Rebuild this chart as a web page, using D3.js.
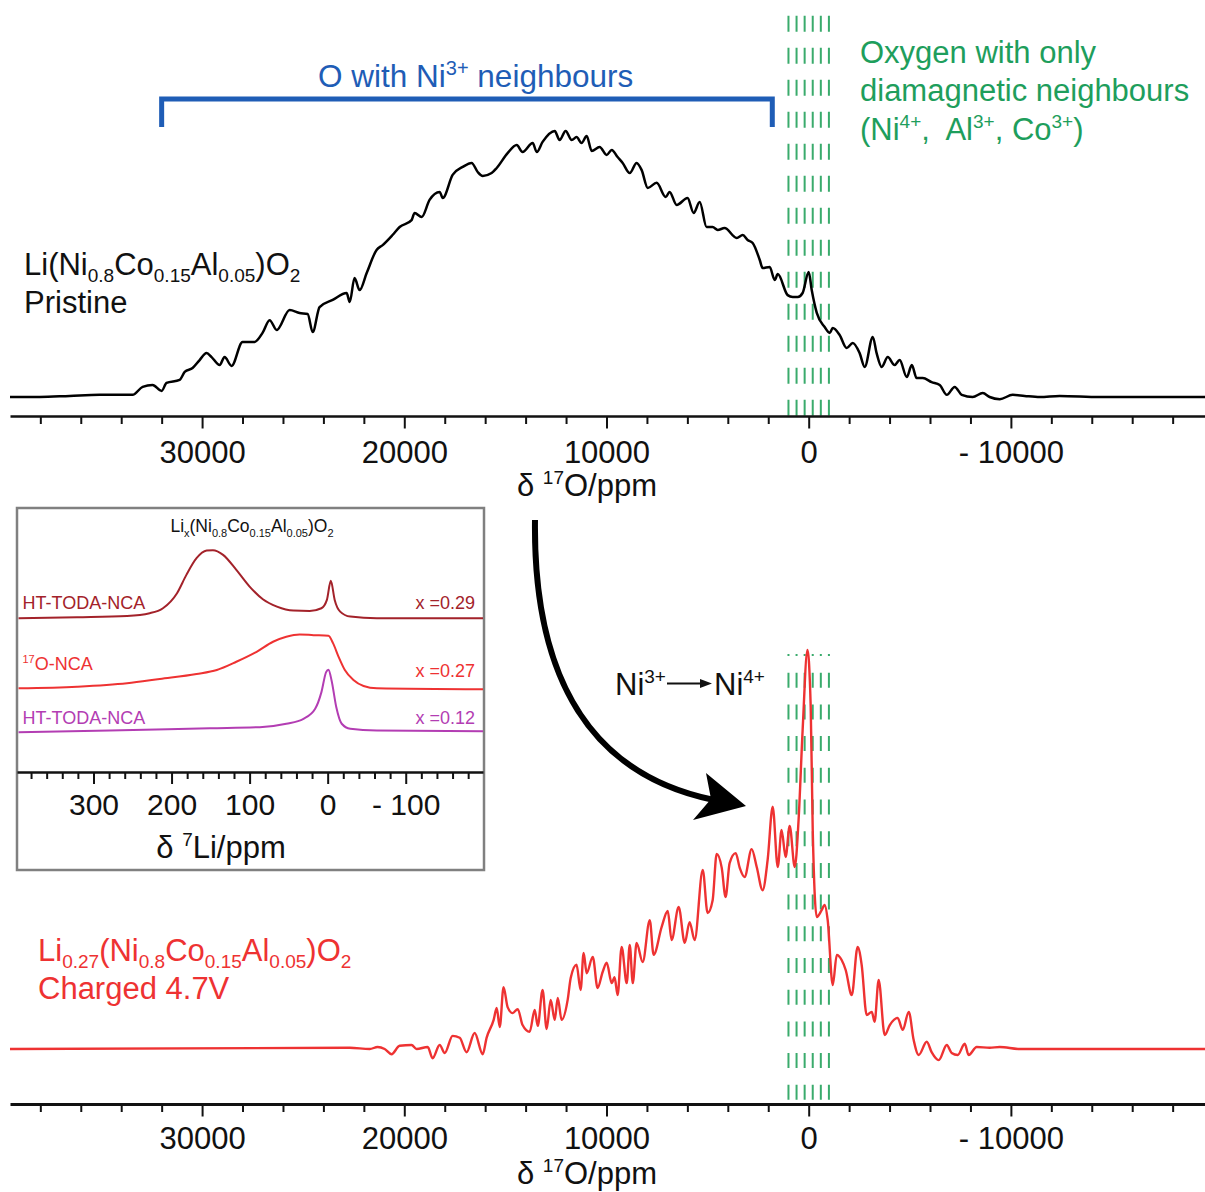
<!DOCTYPE html>
<html>
<head>
<meta charset="utf-8">
<script src="https://cdn.jsdelivr.net/npm/d3@7"></script>
<style>
  body { margin: 0; background: #fff; }
  svg { display: block; }
  text { font-family: "Liberation Sans", Arial, Helvetica, sans-serif; white-space: pre; }
</style>
</head>
<body>
<svg id="chart" width="1205" height="1192"></svg>
<script>
// ---------- data ----------
// 17O spectrum of pristine Li(Ni0.8Co0.15Al0.05)O2: [shift / ppm, relative intensity]
const pristine = [
  [39500,0],[38030,0],[36550,0.4],[35070,0.8],[34420,0.8],[33440,0.8],[32940,3.8],[32450,4.5],[32000,2.3],
  [31760,5.3],[31110,6.4],[30860,9.4],[30470,10.9],[30120,13.9],[29780,16.5],[29530,15.0],[29130,12.0],
  [28890,15.0],[28540,11.7],[28000,20.7],[27400,20.7],[27010,24.1],[26660,28.9],[26310,25.2],[25670,32.7],
  [25180,31.6],[24780,31.2],[24530,24.4],[24190,33.8],[23540,36.5],[22850,39.1],[22700,35.7],[22460,44.7],
  [22210,40.2],[21860,46.6],[21370,55.3],[21070,57.1],[20580,60.9],[20230,63.9],[19640,66.5],[19490,69.2],
  [19140,67.7],[18750,74.1],[18250,77.1],[18100,74.8],[17610,83.5],[17110,86.5],[16670,88.0],[16370,84.6],
  [16120,83.1],[15680,84.2],[15430,86.1],[14890,91.7],[14440,94.7],[14150,92.1],[13650,95.5],[13450,92.1],
  [13160,95.9],[12560,100],[12320,96.6],[12020,100],[11720,96.6],[11480,97.7],[11230,95.5],[10980,98.1],
  [10730,92.5],[10340,94.0],[9990,91.0],[9740,92.9],[9450,90.2],[9200,88.0],[8850,84.2],[8510,88.0],
  [8260,85.3],[7960,78.6],[7520,80.5],[7070,75.2],[6880,77.1],[6530,72.2],[5990,74.8],[5690,69.2],
  [5390,73.3],[5050,63.9],[4750,63.9],[4500,62.8],[4160,63.5],[3560,59.8],[3260,60.9],[3020,59.0],
  [2770,57.9],[2420,51.5],[2280,48.5],[1930,48.9],[1680,44.0],[1530,46.2],[1040,38.3],[790,37.6],
  [540,37.6],[300,39.1],[0,47.0],[-150,40.2],[-400,31.6],[-790,26.3],[-1040,24.1],[-1190,25.9],
  [-1530,23.3],[-1880,18.4],[-2180,20.3],[-2520,16.5],[-2770,11.3],[-3170,22.6],[-3360,16.5],[-3610,11.3],
  [-3910,15.0],[-4250,12.0],[-4500,13.9],[-4850,7.5],[-5100,12.0],[-5340,7.1],[-5640,7.1],[-6080,5.6],
  [-6480,4.5],[-6830,0.8],[-7220,3.8],[-7570,0.8],[-8110,0],[-8610,1.5],[-8950,0],[-9450,-0.8],
  [-10090,0.8],[-10680,0.4],[-11430,0],[-12410,0.4],[-14390,0],[-19600,0]
];

// 17O spectrum of Li0.27(Ni0.8Co0.15Al0.05)O2 charged to 4.7 V
const charged = [
  [39500,0],[22700,0.3],[21710,0],[21320,0.5],[20970,0],[20630,-1.3],[20230,0.8],[19640,1.0],[19390,0],
  [18840,0.5],[18600,-2.3],[18250,1.0],[18000,-1.0],[17610,3.3],[17260,2.8],[16920,-0.8],[16520,4.0],
  [16120,-1.3],[15930,2.8],[15580,7.3],[15430,10.3],[15280,5.5],[15090,15.5],[14890,10.5],[14640,9.0],
  [14390,10.0],[14150,6.0],[13800,4.3],[13550,9.8],[13400,5.8],[13160,14.8],[12960,5.0],[12760,12.3],
  [12560,7.3],[12410,12.8],[12220,7.3],[11920,12.3],[11770,17.8],[11480,21.1],[11280,14.8],[11130,24.1],
  [10980,19.0],[10680,23.1],[10440,15.3],[10190,19.3],[9990,21.6],[9740,16.5],[9600,18.0],[9450,13.5],
  [9250,25.6],[9000,16.5],[8850,26.1],[8700,16.5],[8510,26.6],[8210,21.8],[7860,32.3],[7670,23.6],
  [7270,30.6],[6970,34.6],[6780,27.3],[6430,35.6],[6130,26.6],[5890,31.8],[5640,27.3],[5240,44.9],
  [5000,34.1],[4750,37.3],[4550,48.9],[4300,45.4],[4110,38.1],[3910,46.6],[3610,49.1],[3410,45.4],
  [3170,43.1],[2820,50.1],[2570,45.6],[2280,39.8],[2030,47.4],[1780,60.7],[1530,45.6],[1340,54.9],
  [1140,48.1],[940,55.9],[690,45.6],[500,57.4],[300,79.9],[60,100],[-100,85.7],[-200,54.9],[-400,33.1],
  [-640,34.8],[-790,36.1],[-940,32.3],[-1190,16.0],[-1390,23.6],[-1630,22.3],[-1830,19.8],[-2130,13.5],
  [-2420,25.6],[-2620,21.1],[-2870,8.5],[-3120,9.3],[-3260,6.8],[-3460,17.3],[-3760,3.5],[-4010,6.0],
  [-4400,7.8],[-4650,4.8],[-4950,9.3],[-5190,2.3],[-5440,-1.5],[-5840,1.8],[-6080,-0.8],[-6430,-2.8],
  [-6830,1.0],[-7070,-1.0],[-7370,-1.5],[-7720,1.3],[-7910,-1.5],[-8310,0.5],[-8950,0.3],[-9450,0.5],
  [-10440,0],[-19600,0]
];

// 7Li spectra (inset): [shift / ppm, intensity]
const liHT029 = [
  [396,0],[321,1.5],[257,3.4],[228,7.4],[211,14.7],[193,36.8],[181,63.7],[168,88.2],[155,99.4],[147,100],
  [134,93.1],[117,71.0],[100,46.5],[83,27.9],[65,17.1],[44,11.2],[23,10.7],[8,14.7],[1,26.9],[-4,54.9],
  [-9,26.9],[-16,9.7],[-29,2.4],[-63,0],[-199,0]
];
const li17O027 = [
  [396,0],[321,2.4],[257,7.4],[215,13.7],[168,21.0],[142,26.9],[117,39.0],[91,53.7],[70,68.4],[53,75.7],
  [36,79.2],[18,78.1],[-1,77.1],[-7,66.0],[-14,46.3],[-22,26.9],[-33,12.2],[-46,3.4],[-63,0],[-199,-1.5]
];
const liHT012 = [
  [396,-1.5],[279,1.0],[151,4.4],[87,5.9],[53,10.9],[31,18.2],[16,32.9],[8,57.4],[2,86.8],[-1,90.3],
  [-5,74.6],[-11,35.4],[-18,10.9],[-29,3.5],[-63,1.0],[-199,0]
];
const liOffsets = [226, 123, 60];

// axis ticks
const oMajorTicks = [30000, 20000, 10000, 0, -10000];
const oMinorTicks = d3.range(38000, -18001, -2000).filter(v => v % 10000 !== 0);
const liMajorTicks = [300, 200, 100, 0, -100];
const liMinorTicks = d3.range(380, -181, -20).filter(v => v % 100 !== 0);

// annotation shifts
const diamagneticShifts = [1000, 600, 200, -200, -600, -1000];
const ni3Range = [32000, 1800];

// ---------- drawing ----------
const svg = d3.select("#chart");
const FONT = '"Liberation Sans", Arial, Helvetica, sans-serif';
const GREEN = "#1e9e5c", GREEN_LINE = "#3aab6c", BLUE = "#1f5db6";
const RED = "#ee3232", DARKRED = "#a3222a", MAGENTA = "#b33db3";

const x = d3.scaleLinear().domain([39500, -19600]).range([10, 1205]);
const yTop = d3.scaleLinear().domain([0, 100]).range([397, 131]);
const yBot = d3.scaleLinear().domain([0, 100]).range([1049, 650]);

const fmt = d => d < 0 ? "- " + Math.abs(d) : String(d);

// rich text with sub/superscripts
function rich(g, px, py, parts, size, color, anchor, subShift) {
  const t = g.append("text").attr("x", px).attr("y", py)
    .attr("font-size", size).attr("fill", color)
    .attr("text-anchor", anchor || "start");
  let cur = 0;
  parts.forEach(([s, kind]) => {
    const small = Math.round(size * 0.62);
    const shift = kind === "sub" ? size * (subShift || 0.22) : kind === "sup" ? -size * 0.38 : 0;
    t.append("tspan").attr("dy", shift - cur)
      .attr("font-size", kind ? small : size).text(s);
    cur = shift;
  });
  return t;
}

function axis(yPos, scale, minor, major, minorLen, majorLen, labelY, fontSize, lineW) {
  const g = svg.append("g").attr("transform", `translate(0,${yPos})`);
  g.append("g").call(d3.axisBottom(scale).tickValues(minor).tickSize(minorLen).tickSizeOuter(0).tickFormat(""))
    .call(s => s.select(".domain").remove())
    .call(s => s.selectAll(".tick line").attr("stroke", "#111").attr("stroke-width", 2));
  g.append("g").call(d3.axisBottom(scale).tickValues(major).tickSize(majorLen).tickSizeOuter(0).tickFormat(fmt))
    .call(s => s.select(".domain").attr("stroke", "#111").attr("stroke-width", lineW))
    .call(s => s.selectAll(".tick line").attr("stroke", "#111").attr("stroke-width", 2))
    .call(s => s.selectAll(".tick text").attr("y", labelY).attr("dy", null)
      .attr("font-family", FONT).attr("font-size", fontSize).attr("fill", "#111"));
  return g;
}

const lineGen = (xs, ys, off) => d3.line()
  .x(d => xs(d[0])).y(d => ys(d[1] + (off || 0)))
  .curve(d3.curveMonotoneX);

// --- diamagnetic region dashed guides ---
diamagneticShifts.forEach(p => {
  svg.append("line").attr("x1", x(p)).attr("x2", x(p)).attr("y1", 15.7).attr("y2", 416)
    .attr("stroke", GREEN_LINE).attr("stroke-width", 2).attr("stroke-dasharray", "16,16");
  svg.append("line").attr("x1", x(p)).attr("x2", x(p)).attr("y1", 654).attr("y2", 1104)
    .attr("stroke", GREEN_LINE).attr("stroke-width", 2).attr("stroke-dasharray", "15,16.7")
    .attr("stroke-dashoffset", 13);
});

// --- top panel: pristine ---
svg.append("path").datum(pristine).attr("d", lineGen(x, yTop))
  .attr("fill", "none").attr("stroke", "#000").attr("stroke-width", 2.5).attr("stroke-linejoin", "round");
axis(416, x, oMinorTicks, oMajorTicks, 8, 12.5, 47, 31, 2.5);
rich(svg, 587, 496, [["δ "], ["17", "sup"], ["O/ppm"]], 31, "#111", "middle");

rich(svg, 24, 275, [["Li(Ni"], ["0.8", "sub"], ["Co"], ["0.15", "sub"], ["Al"], ["0.05", "sub"], [")O"], ["2", "sub"]], 31, "#111");
svg.append("text").attr("x", 24).attr("y", 313).attr("font-size", 31).attr("fill", "#111").text("Pristine");

// Ni3+ bracket
svg.append("path")
  .attr("d", `M${x(ni3Range[0])},127 V99 H${x(ni3Range[1])} V127`)
  .attr("fill", "none").attr("stroke", BLUE).attr("stroke-width", 5);
rich(svg, 318, 87, [["O with Ni"], ["3+", "sup"], [" neighbours"]], 31.5, BLUE);

// diamagnetic label
svg.append("text").attr("x", 860).attr("y", 63).attr("font-size", 31).attr("fill", GREEN).text("Oxygen with only");
svg.append("text").attr("x", 860).attr("y", 101).attr("font-size", 31).attr("fill", GREEN).text("diamagnetic neighbours");
rich(svg, 860, 140, [["(Ni"], ["4+", "sup"], [",  Al"], ["3+", "sup"], [", Co"], ["3+", "sup"], [")"]], 31, GREEN);

// --- bottom panel: charged ---
svg.append("path").datum(charged).attr("d", lineGen(x, yBot))
  .attr("fill", "none").attr("stroke", RED).attr("stroke-width", 2.4).attr("stroke-linejoin", "round");
axis(1104, x, oMinorTicks, oMajorTicks, 8, 12.5, 45, 31, 3);
rich(svg, 587, 1184, [["δ "], ["17", "sup"], ["O/ppm"]], 31, "#111", "middle");

rich(svg, 38, 961, [["Li"], ["0.27", "sub"], ["(Ni"], ["0.8", "sub"], ["Co"], ["0.15", "sub"], ["Al"], ["0.05", "sub"], [")O"], ["2", "sub"]], 31, RED);
svg.append("text").attr("x", 38).attr("y", 999).attr("font-size", 31).attr("fill", RED).text("Charged 4.7V");

// Ni3+ -> Ni4+ annotation
rich(svg, 615, 695, [["Ni"], ["3+", "sup"]], 31, "#111");
svg.append("line").attr("x1", 667).attr("x2", 702).attr("y1", 683.5).attr("y2", 683.5)
  .attr("stroke", "#111").attr("stroke-width", 2);
svg.append("path").attr("d", "M700,679 L712,683.5 L700,688 Z").attr("fill", "#111");
rich(svg, 714, 695, [["Ni"], ["4+", "sup"]], 31, "#111");

// curved transition arrow
svg.append("path").attr("d", "M535,520 C533,680 592,775 714,800")
  .attr("fill", "none").attr("stroke", "#000").attr("stroke-width", 6);
svg.append("path").attr("d", "M706,773 L746,806 L693,820 L711,799 Z").attr("fill", "#000");

// --- inset: 7Li spectra ---
const inset = svg.append("g");
inset.append("rect").attr("x", 17).attr("y", 508).attr("width", 467).attr("height", 362)
  .attr("fill", "#fff").attr("stroke", "#808080").attr("stroke-width", 2.5);
const xLi = d3.scaleLinear().domain([398, -199]).range([17, 483]);
const yLi = d3.scaleLinear().domain([0, 388]).range([772, 508]);

[[liHT029, DARKRED], [li17O027, RED], [liHT012, MAGENTA]].forEach(([data, col], i) => {
  inset.append("path").datum(data).attr("d", lineGen(xLi, yLi, liOffsets[i]))
    .attr("fill", "none").attr("stroke", col).attr("stroke-width", 2);
});
axis(772, xLi, liMinorTicks, liMajorTicks, 7, 12, 43, 30, 2.5);
rich(svg, 221, 858, [["δ "], ["7", "sup"], ["Li/ppm"]], 31, "#111", "middle");

rich(svg, 252, 532, [["Li"], ["x", "sub"], ["(Ni"], ["0.8", "sub"], ["Co"], ["0.15", "sub"], ["Al"], ["0.05", "sub"], [")O"], ["2", "sub"]], 17.5, "#111", "middle", 0.3);

const insetLabels = [
  ["HT-TODA-NCA", "x =0.29", 609, 609, DARKRED, false],
  ["O-NCA", "x =0.27", 670, 677, RED, true],
  ["HT-TODA-NCA", "x =0.12", 724, 724, MAGENTA, false]
];
insetLabels.forEach(([name, xv, yl, yr, col, iso]) => {
  if (iso) rich(svg, 22.5, yl, [["17", "sup"], [name]], 18, col);
  else svg.append("text").attr("x", 22.5).attr("y", yl).attr("font-size", 18).attr("fill", col).text(name);
  svg.append("text").attr("x", 475).attr("y", yr).attr("font-size", 18).attr("fill", col)
    .attr("text-anchor", "end").text(xv);
});
</script>
</body>
</html>
